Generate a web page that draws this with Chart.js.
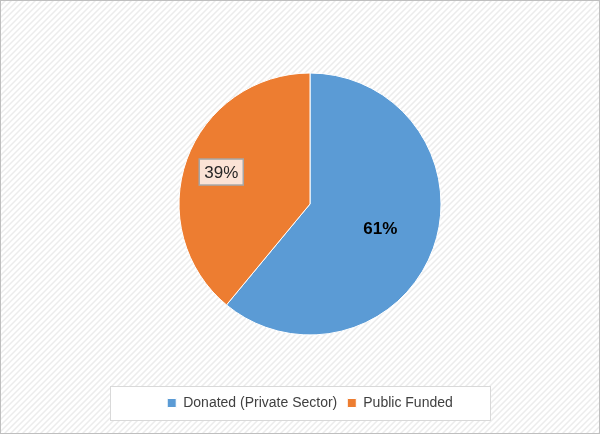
<!DOCTYPE html>
<html>
<head>
<meta charset="UTF-8">
<script src="https://cdn.jsdelivr.net/npm/chart.js"></script>
<style>
  html, body { margin: 0; padding: 0; background: #fff; }
  #wrap { width: 600px; height: 434px; }
</style>
</head>
<body>
<div id="wrap"><canvas id="pie"></canvas></div>
<script>
const labels = ["Donated (Private Sector)", "Public Funded"];
const shares = [61, 39];
const colors = ["#5b9bd5", "#ed7d31"];

// hatch background + white legend box
const backdrop = {
    id: "backdrop",
    beforeDraw(chart) {
        const c = chart.ctx, w = chart.width, h = chart.height;
        c.save();
        c.fillStyle = "#fff";
        c.fillRect(0, 0, w, h);
        c.strokeStyle = "#ececec";
        c.lineWidth = 1.5;
        for (let x = -h; x < w; x += 6) {
            c.beginPath(); c.moveTo(x, h); c.lineTo(x + h, 0); c.stroke();
        }
        c.strokeStyle = "#bfbfbf";
        c.lineWidth = 1;
        c.strokeRect(0.5, 0.5, w - 1, h - 1);
        const lg = chart.legend;
        c.fillStyle = "#fff";
        c.fillRect(110, lg.top, 380, lg.height);
        c.strokeStyle = "#d9d9d9";
        c.strokeRect(110.5, lg.top + 0.5, 380, lg.height);
        c.restore();
    }
};

// percentage labels
const sliceLabels = {
    id: "sliceLabels",
    afterDatasetsDraw(chart) {
        const c = chart.ctx;
        const arcs = chart.getDatasetMeta(0).data;
        const ratio = [0.57, 0.72];
        c.save();
        c.textAlign = "center";
        c.textBaseline = "middle";
        arcs.forEach((a, i) => {
            const mid = (a.startAngle + a.endAngle) / 2;
            const r = a.outerRadius * ratio[i];
            const x = a.x + Math.cos(mid) * r, y = a.y + Math.sin(mid) * r;
            const txt = shares[i] + "%";
            if (i === 0) {
                c.font = "bold 17px 'Liberation Sans'";
                c.fillStyle = "#000";
                c.fillText(txt, x, y);
            } else {
                c.font = "17px 'Liberation Sans'";
                const tw = c.measureText(txt).width + 10;
                c.fillStyle = "#fbe3d6";
                c.fillRect(x - tw / 2, y - 13, tw, 26);
                c.strokeStyle = "#a6a6a6";
                c.lineWidth = 1.5;
                c.strokeRect(x - tw / 2, y - 13, tw, 26);
                c.fillStyle = "#262626";
                c.fillText(txt, x, y + 1);
            }
        });
        c.restore();
    }
};

new Chart(document.getElementById("pie"), {
    type: "pie",
    data: {
        labels: labels,
        datasets: [{
            data: shares,
            backgroundColor: colors,
            borderColor: "#fff",
            borderWidth: 1,
            radius: 131
        }]
    },
    options: {
        responsive: true,
        maintainAspectRatio: false,
        animation: false,
        layout: { padding: { top: 22, bottom: 14, left: 20 } },
        plugins: {
            tooltip: { enabled: false },
            legend: {
                position: "bottom",
                labels: {
                    boxWidth: 9, boxHeight: 9, padding: 10,
                    color: "#404040",
                    font: { family: "'Liberation Sans'", size: 14 }
                }
            }
        }
    },
    plugins: [backdrop, sliceLabels]
});
</script>
</body>
</html>
